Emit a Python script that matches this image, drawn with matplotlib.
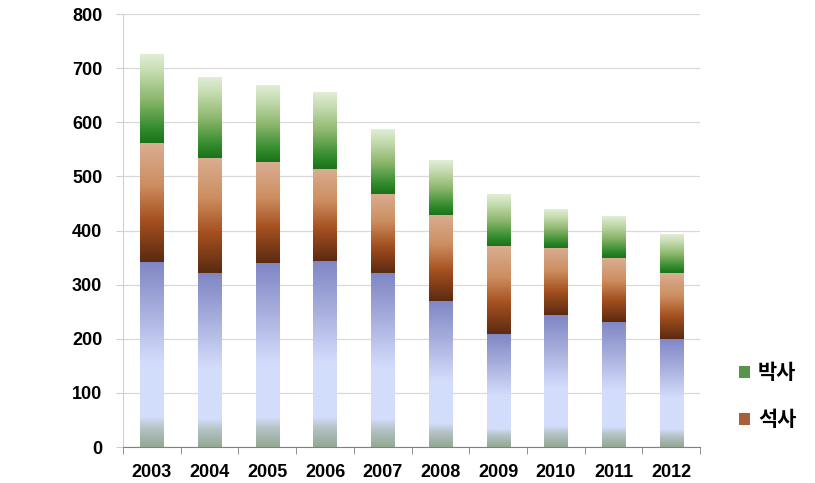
import numpy as np
import matplotlib
matplotlib.use("Agg")
import matplotlib.pyplot as plt
from matplotlib.colors import LinearSegmentedColormap
from matplotlib.patches import Patch

plt.rcParams['font.family'] = ['Liberation Sans', 'Noto Sans CJK KR', 'DejaVu Sans']

years = ['2003', '2004', '2005', '2006', '2007', '2008', '2009', '2010', '2011', '2012']
hak = [342, 321, 340, 344, 321, 270, 209, 243, 231, 200]      # bottom (blue), not in legend
seok = [219, 213, 186, 170, 146, 159, 162, 125, 118, 121]     # 석사
bak = [163, 149, 141, 142, 119, 101, 95, 72, 76, 71]          # 박사
yticks = [0, 100, 200, 300, 400, 500, 600, 700, 800]

# gradients, listed bottom -> top
cm_blue = LinearSegmentedColormap.from_list('b', [
    (0.0, '#93a893'), (0.10, '#b5c3c5'), (0.16, '#d3ddfc'), (0.45, '#d4ddfc'),
    (0.75, '#a5acdc'), (1.0, '#7f86c4')])
cm_brown = LinearSegmentedColormap.from_list('r', [
    (0.0, '#5b2a12'), (0.35, '#a5501f'), (0.65, '#cd8e60'), (1.0, '#d9ae92')])
cm_green = LinearSegmentedColormap.from_list('g', [
    (0.0, '#1b731a'), (0.15, '#2f8a2a'), (0.5, '#8fb86f'), (0.8, '#c4dbaf'), (1.0, '#e1eed6')])

fig = plt.figure(figsize=(8.15, 4.83), dpi=100)
ax = fig.add_axes([0.151, 0.0745, 0.708, 0.8965])

x = np.arange(len(years))
w = 0.4
grad = np.linspace(0, 1, 256).reshape(-1, 1)

bottom = np.zeros(len(years))
for vals, cmap in [(hak, cm_blue), (seok, cm_brown), (bak, cm_green)]:
    bars = ax.bar(x, vals, w, bottom=bottom, facecolor='none', edgecolor='none', zorder=3)
    for b in bars:
        x0, y0 = b.get_x(), b.get_y()
        ax.imshow(grad, cmap=cmap, origin='lower', aspect='auto', zorder=3,
                  extent=[x0, x0 + b.get_width(), y0, y0 + b.get_height()])
    bottom = bottom + np.array(vals)

ax.set_xlim(-0.5, len(years) - 0.5)
ax.set_ylim(0, 800)
ax.set_yticks(yticks)
ax.set_yticklabels([str(v) for v in yticks], fontsize=13, fontweight='bold')
ax.set_xticks(x)
ax.set_xticklabels(years, fontsize=13, fontweight='bold')
ax.set_xticks(np.arange(len(years) + 1) - 0.5, minor=True)
ax.tick_params(axis='x', which='major', length=0, pad=12)
ax.tick_params(axis='x', which='minor', length=5, color='#808080', direction='out')
ax.tick_params(axis='y', length=5, color='#d0d0d0', pad=10)

ax.grid(axis='y', color='#d9d9d9', linewidth=0.9, zorder=0)
ax.set_axisbelow(True)
for s in ['top', 'right']:
    ax.spines[s].set_visible(False)
ax.spines['left'].set_color('#d0d0d0')
ax.spines['bottom'].set_color('#808080')

handles = [Patch(facecolor='#55964a', label='박사'), Patch(facecolor='#a8603a', label='석사')]
fig.legend(handles=handles, loc='center left', bbox_to_anchor=(0.884, 0.18),
           frameon=False, prop={'family': ['Noto Sans CJK KR'], 'weight': 'bold', 'size': 15},
           handlelength=0.5, handleheight=0.5, handletextpad=0.4, labelspacing=1.25)

fig.savefig('out.png', dpi=100)
